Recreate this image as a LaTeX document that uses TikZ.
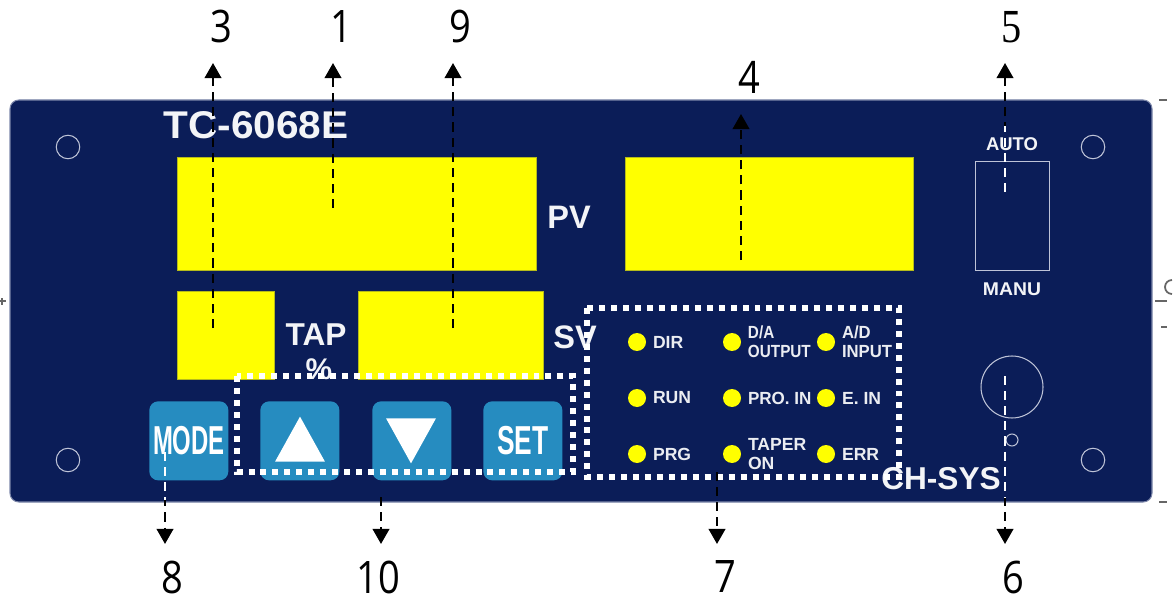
\documentclass[tikz,border=0pt]{standalone}
\usepackage{fontspec}
\setmainfont{Liberation Sans}
\newfontfamily\numfont{Open Sans}
\newfontfamily\fivefont{Liberation Serif}
\usetikzlibrary{arrows.meta,positioning,shapes.geometric}
\definecolor{PanelNavy}{RGB}{11,29,88}
\definecolor{PanelEdge}{RGB}{125,135,170}
\definecolor{KeyBlue}{RGB}{38,140,192}
\definecolor{ScrewGrey}{RGB}{190,195,215}
\definecolor{LampYellow}{RGB}{255,255,0}
\tikzset{
  display/.style={draw=LampYellow!70!PanelNavy,fill=LampYellow,line width=0.4pt,
    anchor=north west,inner sep=0pt},
  keybox/.style={fill=KeyBlue,rounded corners=5pt,anchor=north west,inner sep=0pt,
    minimum width=1.58cm,minimum height=1.58cm},
  keytri/.style={isosceles triangle,isosceles triangle apex angle=58,fill=white,
    inner sep=0pt,minimum height=0.9cm,minimum width=1cm},
  keytext/.style={text=white,font=\fontsize{20pt}{20pt}\bfseries,inner sep=0pt},
  screw/.style={circle,draw=ScrewGrey,line width=0.6pt,minimum size=0.47cm,inner sep=0pt},
  lamp/.style={circle,fill=LampYellow,minimum size=0.36cm,inner sep=0pt},
  lamptext/.style={text=white!92!PanelNavy,font=\fontsize{10pt}{10.8pt}\bfseries,
    align=left,inner sep=0pt,right=3.6pt of #1},
  paneltext/.style={text=white!95!PanelNavy,font=\bfseries,inner sep=0pt},
  callout/.style={text=black,font=\fontsize{25.5pt}{25.5pt}\numfont,inner sep=0pt,xscale=0.85},
  groupbox/.style={draw=white,line width=3pt,dash pattern=on 3.4pt off 3.4pt},
  arrow/.style={-{Triangle[width=9.4pt,length=8.6pt]},black,line width=1.4pt,
    dash pattern=on 5.2pt off 3.4pt},
  overdash/.style={white,line width=1.4pt,dash pattern=on 5.2pt off 3.4pt},
  edgemark/.style={draw=black!60,line width=0.6pt}
}
\begin{document}
\begin{tikzpicture}[x=0.02cm,y=-0.02cm]
  \useasboundingbox (0,0) rectangle (1176,601);
  \draw[draw=PanelEdge,fill=PanelNavy,line width=0.6pt,rounded corners=5pt] (10,100) rectangle (1152,502);
  \draw[edgemark] (1159,100) -- (1167,100);
  \draw[edgemark] (1155,301) -- (1167,301);
  \draw[edgemark,line width=1pt] (1172,294) arc (90:270:7);
  \draw[edgemark] (1161,327) -- (1167,327);
  \draw[edgemark] (1159,502) -- (1167,502);
  \draw[edgemark] (0,301) -- (6,301);
  \draw[edgemark] (2,298) -- (2,305);

  \node[display,minimum width=7.18cm,minimum height=2.26cm] (pvmain) at (177,157) {};
  \node[display,minimum width=5.76cm,minimum height=2.26cm] (pvside) at (625,157) {};
  \node[display,minimum width=1.94cm,minimum height=1.76cm] (tapbox) at (177,291) {};
  \node[display,minimum width=3.7cm,minimum height=1.76cm] (svbox) at (358,291) {};

  \node[paneltext,font=\fontsize{22pt}{22pt}\bfseries,xscale=1.05] (model) at (256,125) {TC-6068E};
  \node[paneltext,font=\fontsize{18.5pt}{18.5pt}\bfseries,anchor=west] (pvtext) at (547,217) {PV};
  \node[paneltext,font=\fontsize{18pt}{18pt}\bfseries] (taptext) at (316,335) {TAP};
  \node[paneltext,font=\fontsize{17pt}{17pt}\bfseries] (pcttext) at (319,369) {\%};
  \node[paneltext,font=\fontsize{18.5pt}{18.5pt}\bfseries,anchor=west] (svtext) at (553,337) {SV};
  \node[paneltext,font=\fontsize{18pt}{18pt}\bfseries] (brand) at (941,479) {CH-SYS};
  \node[paneltext,font=\fontsize{10.5pt}{10.5pt}\bfseries] (autotext) at (1012,144) {AUTO};
  \node[paneltext,font=\fontsize{10.5pt}{10.5pt}\bfseries,xscale=1.05] (manutext) at (1012,289) {MANU};

  \node[screw] (screwa) at (68,147) {};
  \node[screw] (screwb) at (1093,147) {};
  \node[screw] (screwc) at (68,460) {};
  \node[screw] (screwd) at (1093,460) {};
  \node[draw=ScrewGrey,line width=0.6pt,minimum width=1.48cm,minimum height=2.18cm,inner sep=0pt,anchor=north west] (switch) at (975,161) {};
  \node[screw,minimum size=1.24cm] (knob) at (1012,387) {};
  \node[screw,minimum size=0.24cm] (hole) at (1012,440) {};

  \node[keybox] (modekey) at (149,401) {};
  \node[keybox] (upkey) at (260,401) {};
  \node[keybox] (downkey) at (372,401) {};
  \node[keybox] (setkey) at (483,401) {};
  \node[keytext,xscale=0.68,yscale=1.15] (modetext) at (modekey) {MODE};
  \node[keytri,shape border rotate=90] (uptri) at (300,447) {};
  \node[keytri,shape border rotate=270] (downtri) at (411,433) {};
  \node[keytext,xscale=0.75,yscale=1.15] (settext) at (setkey) {SET};

  \node[lamp] (dir) at (637,342) {};
  \node[lamp] (run) at (637,398) {};
  \node[lamp] (prg) at (637,454) {};
  \node[lamp] (daout) at (732,342) {};
  \node[lamp] (proin) at (732,398) {};
  \node[lamp] (taper) at (732,454) {};
  \node[lamp] (adin) at (826,342) {};
  \node[lamp] (ein) at (826,398) {};
  \node[lamp] (err) at (826,454) {};
  \node[lamptext=dir] (dirtext) {DIR};
  \node[lamptext=run] (runtext) {RUN};
  \node[lamptext=prg] (prgtext) {PRG};
  \node[lamptext=daout,xscale=0.87] (daouttext) {D/A\\OUTPUT};
  \node[lamptext=proin,xscale=0.97] (proutext) {PRO. IN};
  \node[lamptext=taper] (tapertext) {TAPER\\ON};
  \node[lamptext=adin,xscale=0.95] (adintext) {A/D\\INPUT};
  \node[lamptext=ein] (eintext) {E. IN};
  \node[lamptext=err] (errtext) {ERR};

  \draw[groupbox] (237,376) rectangle (573,472);
  \draw[groupbox] (587,308) rectangle (899,477);

  \node[callout] (numthree) at (221,27) {3};
  \node[callout] (numone) at (341,27) {1};
  \node[callout] (numnine) at (460,27) {9};
  \node[callout] (numfour) at (749,77) {4};
  \node[callout,font=\fontsize{27pt}{27pt}\fivefont] (numfive) at (1012,27) {5};
  \node[callout] (numeight) at (172,577) {8};
  \node[callout] (numten) at (378,577) {10};
  \node[callout] (numseven) at (725,577) {7};
  \node[callout] (numsix) at (1013,577) {6};

  \coordinate (tailthree) at (213,328);
  \coordinate (tipthree) at (213,63);
  \coordinate (tailone) at (333,208);
  \coordinate (tipone) at (333,63);
  \coordinate (tailnine) at (453,328);
  \coordinate (tipnine) at (453,63);
  \coordinate (tailfour) at (741,260);
  \coordinate (tipfour) at (741,114);
  \coordinate (tailfive) at (1005,192);
  \coordinate (tipfive) at (1005,63);
  \coordinate (whitefive) at (1005,126);
  \coordinate (taileight) at (165,452);
  \coordinate (tipeight) at (165,544);
  \coordinate (whiteeight) at (165,500);
  \coordinate (tailten) at (381,497);
  \coordinate (tipten) at (381,544);
  \coordinate (tailseven) at (717,472);
  \coordinate (tipseven) at (717,544);
  \coordinate (tailsix) at (1005,376);
  \coordinate (tipsix) at (1005,544);
  \coordinate (whitesix) at (1005,497);

  \draw[arrow] (tailthree) -- (tipthree);
  \draw[arrow] (tailone) -- (tipone);
  \draw[arrow] (tailnine) -- (tipnine);
  \draw[arrow] (tailfour) -- (tipfour);
  \draw[arrow] (tailfive) -- (tipfive);
  \draw[arrow] (taileight) -- (tipeight);
  \draw[arrow] (tailten) -- (tipten);
  \draw[arrow] (tailseven) -- (tipseven);
  \draw[arrow] (tailsix) -- (tipsix);
  \draw[overdash] (tailfive) -- (whitefive);
  \draw[overdash] (taileight) -- (whiteeight);
  \draw[overdash] (tailsix) -- (whitesix);
\end{tikzpicture}
\end{document}
